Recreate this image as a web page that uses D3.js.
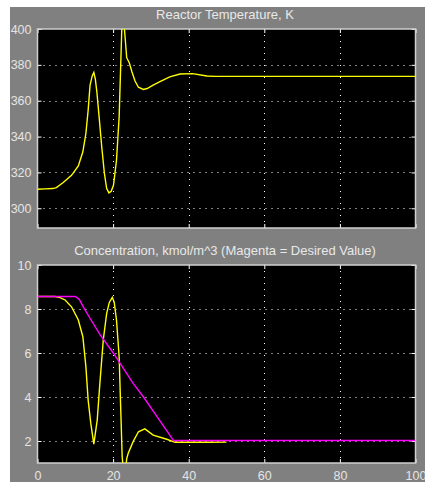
<!DOCTYPE html>
<html><head><meta charset="utf-8">
<script src="https://cdn.jsdelivr.net/npm/d3@7"></script>
<style>html,body{margin:0;padding:0;background:#fff;}svg{display:block;}</style>
</head><body>
<script>
// ---- data ----
const xTicks = [0, 20, 40, 60, 80, 100];
const tempTicks = [300, 320, 340, 360, 380, 400];
const concTicks = [2, 4, 6, 8, 10];

const timeT = [0, 2, 4, 5, 6.8, 9, 10.8, 12, 12.8, 13.4, 13.9, 14.5, 14.9, 15.3, 15.7, 16.3, 17, 17.7, 18.3, 18.9, 19.5, 20.1, 20.9, 21.6, 22, 22.3, 22.7, 23.0, 23.6, 24.3, 25.0, 25.8, 26.7, 28, 29, 30.6, 32.4, 35, 37.7, 41, 44.8, 47, 60, 80, 100];
const temperature = [310.6, 310.8, 311, 311.5, 314.4, 318.4, 323.6, 331.5, 341.7, 354.7, 368.7, 374, 375.8, 372, 365, 351, 334.2, 319.4, 311, 308.6, 309.5, 312.8, 326.8, 351, 379, 400, 428, 400, 384, 381, 376, 371, 367.5, 366.3, 366.8, 368.7, 370.6, 373.3, 374.9, 375.1, 373.8, 373.6, 373.6, 373.6, 373.6];

const timeC = [0, 4.6, 6, 7.3, 9, 10.8, 12, 12.8, 13.4, 14.1, 14.9, 15.8, 16.5, 17.4, 18.3, 19, 19.8, 20.3, 20.9, 21.6, 22, 22.4, 22.8, 23.2, 23.6, 24, 25.3, 26.7, 28.4, 30.6, 34.2, 36.4, 39.5, 45, 50];
const concentration = [8.57, 8.57, 8.52, 8.41, 8.1, 7.5, 6.74, 5.38, 3.86, 2.8, 1.86, 2.95, 4.62, 6.59, 7.8, 8.3, 8.53, 8.3, 7.5, 5.83, 3.56, 1.29, 0.5, 0.5, 1.2, 1.44, 1.97, 2.42, 2.55, 2.27, 2.08, 1.94, 1.94, 1.94, 1.95];

const timeD = [0, 10, 11, 12.6, 13.9, 16.5, 20.1, 25.3, 28, 36, 100];
const desired = [8.57, 8.57, 8.45, 7.95, 7.58, 6.85, 5.99, 4.62, 4.01, 2.02, 2.02];

// ---- layout ----
const W = 425, H = 485;
const svg = d3.select("body").append("svg").attr("width", W).attr("height", H);
svg.append("rect").attr("x", 10).attr("y", 7).attr("width", W - 10).attr("height", 475).attr("fill", "#808080");

const defs = svg.append("defs");
defs.append("clipPath").attr("id", "bg").append("rect").attr("x", 10).attr("y", 7).attr("width", W - 10).attr("height", 475);
const root = svg.append("g").attr("clip-path", "url(#bg)");

const L = 37.5, R = 415.5;
const x = d3.scaleLinear().domain([0, 100]).range([L, R]);

function panel(id, top, bottom, yDomain, yTickVals, showX, title, titleY) {
  const y = d3.scaleLinear().domain(yDomain).range([bottom, top]);
  defs.append("clipPath").attr("id", id).append("rect")
    .attr("x", L).attr("y", top).attr("width", R - L).attr("height", bottom - top);
  const g = root.append("g");
  g.append("rect").attr("x", L).attr("y", top).attr("width", R - L).attr("height", bottom - top).attr("fill", "#000");
  // grid
  const grid = g.append("g").attr("stroke", "#fff").attr("stroke-width", 1).attr("stroke-dasharray", "1,5");
  grid.selectAll(".gx").data(xTicks.filter(d => d > 0 && d < 100)).join("line")
    .attr("x1", d => Math.round(x(d)) + 0.5).attr("x2", d => Math.round(x(d)) + 0.5)
    .attr("y1", top).attr("y2", bottom);
  grid.selectAll(".gy").data(yTickVals.filter(d => d > yDomain[0] && d < yDomain[1])).join("line")
    .attr("y1", d => Math.round(y(d)) + 0.5).attr("y2", d => Math.round(y(d)) + 0.5)
    .attr("x1", L).attr("x2", R);
  // axes (ticks inward)
  const ax = d3.axisLeft(y).tickValues(yTickVals).tickSize(-4).tickPadding(6);
  const ga = g.append("g").attr("transform", `translate(${L},0)`).call(ax);
  const gr = g.append("g").attr("transform", `translate(${R},0)`).call(d3.axisRight(y).tickValues(yTickVals).tickSize(-4).tickFormat(""));
  const gt = g.append("g").attr("transform", `translate(0,${top})`).call(d3.axisTop(x).tickValues(xTicks).tickSize(-4).tickFormat(""));
  const gb = g.append("g").attr("transform", `translate(0,${bottom})`).call(d3.axisBottom(x).tickValues(xTicks).tickSize(-4).tickPadding(8).tickFormat(showX ? d3.format("d") : ""));
  [ga, gr, gt, gb].forEach(a => {
    a.select(".domain").remove();
    a.selectAll(".tick line").attr("stroke", "#fff");
    a.selectAll("text").attr("fill", "#e4e4e4").style("font-family", "'Liberation Sans', Arial, sans-serif").style("font-size", "12.5px");
  });
  g.append("rect").attr("x", L).attr("y", top).attr("width", R - L).attr("height", bottom - top)
    .attr("fill", "none").attr("stroke", "#cfcfcf").attr("stroke-width", 1.5);
  g.append("text").attr("x", 225).attr("y", titleY).attr("text-anchor", "middle")
    .attr("fill", "#e8e8e8").style("font-family", "'Liberation Sans', Arial, sans-serif").style("font-size", "13px")
    .text(title);
  const plot = g.append("g").attr("clip-path", `url(#${id})`);
  return { y, plot };
}

const p1 = panel("c1", 29, 228, [289, 400], tempTicks, false, "Reactor Temperature, K", 19);
const p2 = panel("c2", 265, 463, [1, 10], concTicks, true, "Concentration, kmol/m^3 (Magenta = Desired Value)", 255);

const lineT = d3.line().x((d, i) => x(timeT[i])).y(d => p1.y(d));
p1.plot.append("path").datum(temperature).attr("d", lineT)
  .attr("fill", "none").attr("stroke", "#ffff00").attr("stroke-width", 1.4);

const lineC = d3.line().x((d, i) => x(timeC[i])).y(d => p2.y(d));
p2.plot.append("path").datum(concentration).attr("d", lineC)
  .attr("fill", "none").attr("stroke", "#ffff00").attr("stroke-width", 1.4);

const lineD = d3.line().x((d, i) => x(timeD[i])).y(d => p2.y(d));
p2.plot.append("path").datum(desired).attr("d", lineD)
  .attr("fill", "none").attr("stroke", "#ff00ff").attr("stroke-width", 1.4);
</script>
</body></html>
